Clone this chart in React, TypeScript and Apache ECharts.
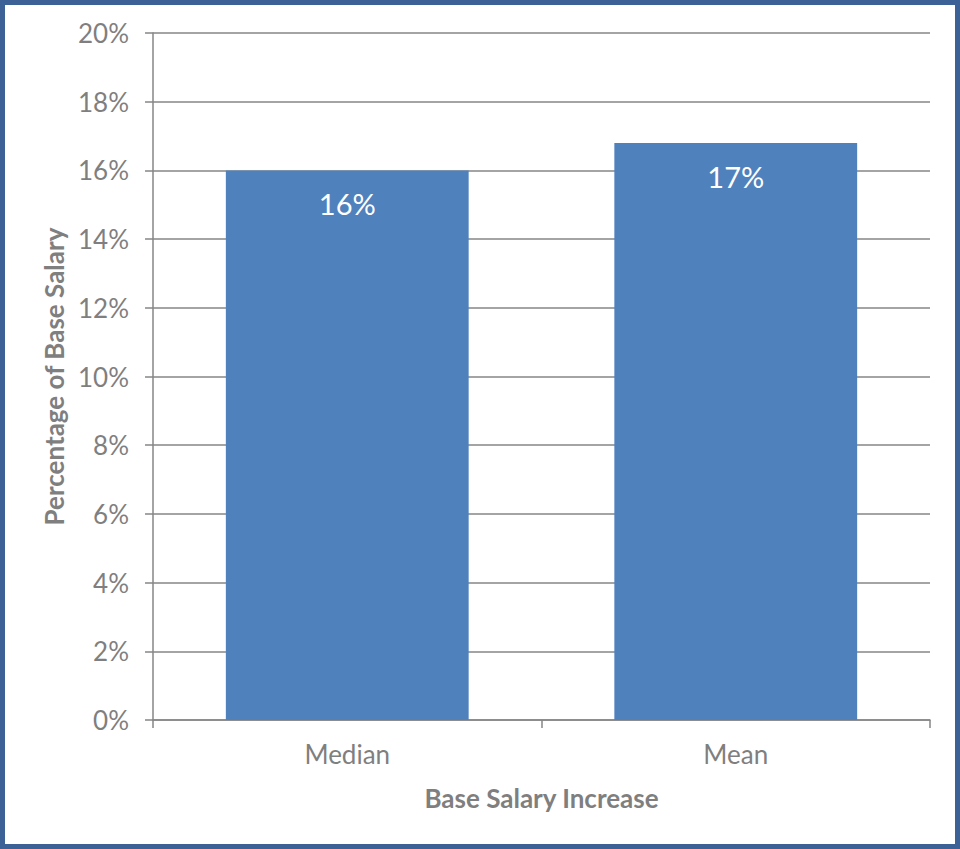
import React, { useEffect, useRef } from "react";
import * as echarts from "echarts";

const categories = ["Median", "Mean"];
const values = [16.0, 16.8];
const yTicks = { min: 0, max: 20, interval: 2 };
const xTitle = "Base Salary Increase";
const yTitle = "Percentage of Base Salary";

export default function App() {
  const ref = useRef<HTMLDivElement>(null);
  useEffect(() => {
    if (!ref.current) return;
    const chart = echarts.init(ref.current, null, { renderer: "svg" });
    const font = "Lato, 'Open Sans', sans-serif";
    chart.setOption({
      animation: false,
      backgroundColor: "#ffffff",
      textStyle: { fontFamily: font },
      grid: { left: 153, right: 30, top: 33, bottom: 129 },
      xAxis: {
        type: "category",
        data: categories,
        name: xTitle,
        nameLocation: "middle",
        nameGap: 65,
        nameTextStyle: { color: "#7f7f7f", fontSize: 26, fontWeight: "bold", fontFamily: font },
        axisLine: { lineStyle: { color: "#868686", width: 1.5 } },
        axisTick: { show: true, length: 8, lineStyle: { color: "#868686", width: 1.5 } },
        axisLabel: { color: "#7f7f7f", fontSize: 26, margin: 21, fontFamily: font },
      },
      yAxis: {
        type: "value",
        min: yTicks.min,
        max: yTicks.max,
        interval: yTicks.interval,
        name: yTitle,
        nameLocation: "middle",
        nameGap: 83,
        nameTextStyle: { color: "#7f7f7f", fontSize: 26, fontWeight: "bold", fontFamily: font },
        axisLine: { show: true, lineStyle: { color: "#868686", width: 1.5 } },
        axisTick: { show: true, length: 8, lineStyle: { color: "#868686", width: 1.5 } },
        axisLabel: { color: "#7f7f7f", fontSize: 26, margin: 24, fontFamily: font, formatter: (v: number) => `${v}%` },
        splitLine: { lineStyle: { color: "#868686", width: 1.5 } },
      },
      series: [
        {
          type: "bar",
          data: values,
          barWidth: "62.5%",
          itemStyle: { color: "#4f81bd" },
          label: {
            show: true,
            position: "insideTop",
            distance: 19,
            color: "#ffffff",
            fontSize: 29,
            fontFamily: font,
            formatter: (p: any) => `${Math.round(p.value)}%`,
          },
        },
      ],
      graphic: [
        {
          type: "rect",
          shape: { x: 2.5, y: 2.5, width: 955, height: 844 },
          style: { fill: "none", stroke: "#3b6196", lineWidth: 5 },
          silent: true,
        },
      ],
    });
    return () => chart.dispose();
  }, []);
  return (
    <div
      ref={ref}
      style={{ position: "absolute", left: 0, top: 0, width: 960, height: 849 }}
    />
  );
}
